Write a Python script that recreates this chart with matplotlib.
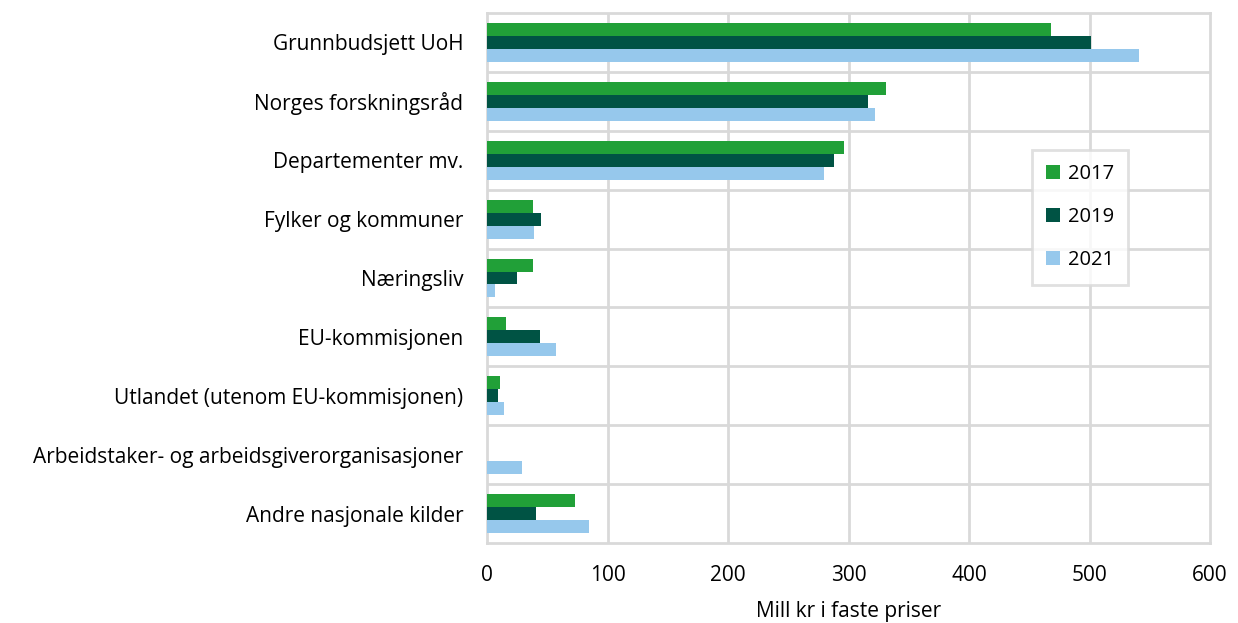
import numpy as np
import matplotlib.pyplot as plt

plt.rcParams['font.family'] = ['Open Sans', 'DejaVu Sans']

categories = ['Grunnbudsjett UoH', 'Norges forskningsråd', 'Departementer mv.',
              'Fylker og kommuner', 'Næringsliv', 'EU-kommisjonen',
              'Utlandet (utenom EU-kommisjonen)',
              'Arbeidstaker- og arbeidsgiverorganisasjoner', 'Andre nasjonale kilder']
years = ['2017', '2019', '2021']
v2017 = [468, 331, 296, 38, 38, 16, 11, 0, 73]
v2019 = [501, 316, 288, 45, 25, 44, 9, 0, 41]
v2021 = [541, 322, 280, 39, 7, 57, 14, 29, 85]
colors = ['#21a038', '#005344', '#96c8ec']

fig = plt.figure(figsize=(12.38, 6.23), dpi=100)
ax = fig.add_axes([487 / 1238, 1 - 543 / 623, (1210 - 487) / 1238, (543 - 13) / 623])

y = np.arange(len(categories))
h = 0.22
for i, (vals, yr) in enumerate(zip([v2017, v2019, v2021], years)):
    ax.barh(y + (i - 1) * h, vals, height=h, color=colors[i], label=yr, zorder=3)

ax.set_ylim(len(categories) - 0.5, -0.5)
ax.set_xlim(0, 600)
ax.set_xticks(range(0, 601, 100))
ax.set_yticks(y)
ax.set_yticklabels(categories, fontsize=15)
ax.tick_params(axis='x', labelsize=15, length=0, pad=16)
ax.tick_params(axis='y', length=0, pad=17)

# grid lines: vertical at ticks, horizontal between categories
for xv in range(100, 600, 100):
    ax.axvline(xv, color='#d9d9d9', lw=2, zorder=1)
for yb in np.arange(0.5, len(categories) - 1, 1):
    ax.axhline(yb, color='#d9d9d9', lw=2, zorder=1)
for s in ax.spines.values():
    s.set_color('#d9d9d9')
    s.set_linewidth(2)

ax.set_xlabel('Mill kr i faste priser', fontsize=15, labelpad=11)

leg = ax.legend(loc='upper left', bbox_to_anchor=(1032 / 1238, 1 - 150 / 623),
                bbox_transform=fig.transFigure, fontsize=14.5, frameon=True,
                fancybox=False, edgecolor='#d9d9d9', handlelength=0.7,
                handleheight=0.7, handletextpad=0.4, labelspacing=1.15,
                borderpad=0.7, borderaxespad=0)
leg.get_frame().set_linewidth(2)
leg.set_zorder(5)

fig.savefig('out.png', dpi=100)
